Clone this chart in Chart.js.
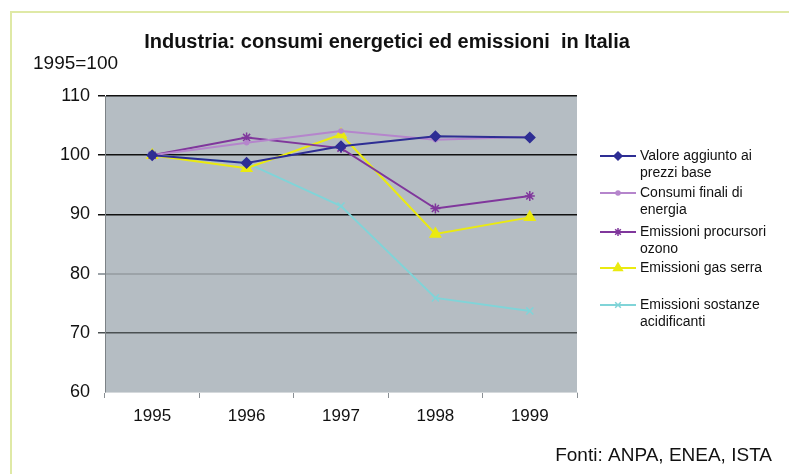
<!DOCTYPE html>
<html>
<head>
<meta charset="utf-8">
<script src="https://cdn.jsdelivr.net/npm/chart.js@4.4.1/dist/chart.umd.min.js"></script>
<style>
  html, body { margin: 0; padding: 0; background: #ffffff; }
  #wrap { width: 789px; height: 474px; position: relative; }
</style>
</head>
<body>
<div id="wrap"><canvas id="energyChart" width="789" height="474"></canvas></div>
<script>
// Data (index 1995=100)
const years = ['1995', '1996', '1997', '1998', '1999'];
const valoreAggiunto = [100, 98.7, 101.5, 103.2, 103.0];
const consumiFinali = [100, 102.1, 104.1, 102.6, 103.1];
const emissioniOzono = [100, 103.0, 101.2, 91.0, 93.1];
const emissioniGasSerra = [100, 97.8, 103.5, 86.7, 89.5];
const emissioniAcidificanti = [100, 98.7, 91.4, 75.9, 73.7];
const yTicks = [60, 70, 80, 90, 100, 110];

const seriesNames = [
    ['Valore aggiunto ai', 'prezzi base'],
    ['Consumi finali di', 'energia'],
    ['Emissioni procursori', 'ozono'],
    ['Emissioni gas serra'],
    ['Emissioni sostanze', 'acidificanti']
];

const FONT = '"Liberation Sans", Arial, sans-serif';

// Grey plot background + frame + texts around the chart
const decorations = {
    id: 'decorations',
    beforeDraw(chart) {
        const { ctx, chartArea } = chart;
        ctx.save();
        ctx.fillStyle = '#ffffff';
        ctx.fillRect(0, 0, chart.width, chart.height);
        // light green frame on top and left
        ctx.strokeStyle = '#dfe9a6';
        ctx.lineWidth = 2;
        ctx.beginPath();
        ctx.moveTo(11, chart.height);
        ctx.lineTo(11, 12);
        ctx.lineTo(chart.width, 12);
        ctx.stroke();
        // plot area
        ctx.fillStyle = '#b5bdc3';
        ctx.fillRect(chartArea.left, chartArea.top, chartArea.right - chartArea.left, chartArea.bottom - chartArea.top);
        ctx.restore();
    },
    afterDraw(chart) {
        const { ctx } = chart;
        ctx.save();
        ctx.fillStyle = '#111111';
        ctx.textBaseline = 'middle';
        ctx.font = 'bold 20px ' + FONT;
        ctx.textAlign = 'center';
        ctx.fillText('Industria: consumi energetici ed emissioni  in Italia', 387, 42);
        ctx.textAlign = 'left';
        ctx.font = '19px ' + FONT;
        ctx.fillText('1995=100', 33, 64);
        ctx.textAlign = 'right';
        ctx.fillText('Fonti: ANPA, ENEA, ISTA', 772, 456);

        // legend
        const rows = [156, 193, 232, 268, 305];
        chart.data.datasets.forEach((ds, i) => {
            const y = rows[i];
            ctx.strokeStyle = ds.borderColor;
            ctx.lineWidth = 2;
            ctx.beginPath();
            ctx.moveTo(600, y);
            ctx.lineTo(636, y);
            ctx.stroke();
            ctx.fillStyle = ds.pointBackgroundColor;
            ctx.strokeStyle = ds.pointBorderColor;
            ctx.lineWidth = ds.pointBorderWidth;
            Chart.helpers.drawPoint(ctx, {
                pointStyle: ds.pointStyle,
                radius: Math.max(2, ds.pointRadius - 1),
                borderWidth: ds.pointBorderWidth,
                rotation: 0
            }, 618, y);
            ctx.fillStyle = '#111111';
            ctx.font = '14px ' + FONT;
            ctx.textAlign = 'left';
            seriesNames[i].forEach((line, j) => {
                ctx.fillText(line, 640, y + j * 17);
            });
        });
        ctx.restore();
    }
};

function series(label, data, color, style, radius) {
    return {
        label: label,
        data: data,
        borderColor: color,
        backgroundColor: color,
        borderWidth: 2,
        pointStyle: style,
        pointRadius: radius,
        pointHoverRadius: radius,
        pointBackgroundColor: color,
        pointBorderColor: color,
        pointBorderWidth: 1.5,
        tension: 0
    };
}

new Chart(document.getElementById('energyChart'), {
    type: 'line',
    data: {
        labels: years,
        datasets: [
            series(seriesNames[0].join(' '), valoreAggiunto, '#2e2e94', 'rectRot', 5),
            series(seriesNames[1].join(' '), consumiFinali, '#b585cc', 'circle', 2),
            series(seriesNames[2].join(' '), emissioniOzono, '#80379c', 'star', 5),
            series(seriesNames[3].join(' '), emissioniGasSerra, '#eaea10', 'triangle', 6),
            series(seriesNames[4].join(' '), emissioniAcidificanti, '#80d4d8', 'crossRot', 5)
        ]
    },
    options: {
        responsive: false,
        animation: false,
        layout: { padding: { left: 10, right: 212, top: 96, bottom: 36 } },
        plugins: {
            legend: { display: false },
            title: { display: false },
            tooltip: { enabled: false }
        },
        scales: {
            x: {
                offset: true,
                grid: {
                    offset: true,
                    drawOnChartArea: false,
                    color: '#8a9095',
                    tickLength: 6
                },
                border: { color: '#d5d9dc', width: 1 },
                ticks: {
                    color: '#111111',
                    font: { family: FONT, size: 17 },
                    padding: 8,
                    maxRotation: 0
                },
                afterFit(scale) { scale.height = 46; }
            },
            y: {
                min: 60,
                max: 110,
                afterBuildTicks(scale) {
                    scale.ticks = yTicks.map(v => ({ value: v }));
                },
                grid: {
                    color(ctx) {
                        const v = ctx.tick && ctx.tick.value;
                        if (v === 80) return '#9ca3a8';
                        if (v === 70) return '#4a5052';
                        if (v === 60) return 'rgba(0,0,0,0)';
                        return '#111111';
                    },
                    lineWidth(ctx) {
                        const v = ctx.tick && ctx.tick.value;
                        return v === 80 ? 2 : 1.5;
                    },
                    tickLength: 7
                },
                border: { color: '#7c8286', width: 1 },
                ticks: {
                    color: '#111111',
                    font: { family: FONT, size: 18 },
                    padding: 8
                },
                afterFit(scale) { scale.width = 95; }
            }
        }
    },
    plugins: [decorations]
});
</script>
</body>
</html>
